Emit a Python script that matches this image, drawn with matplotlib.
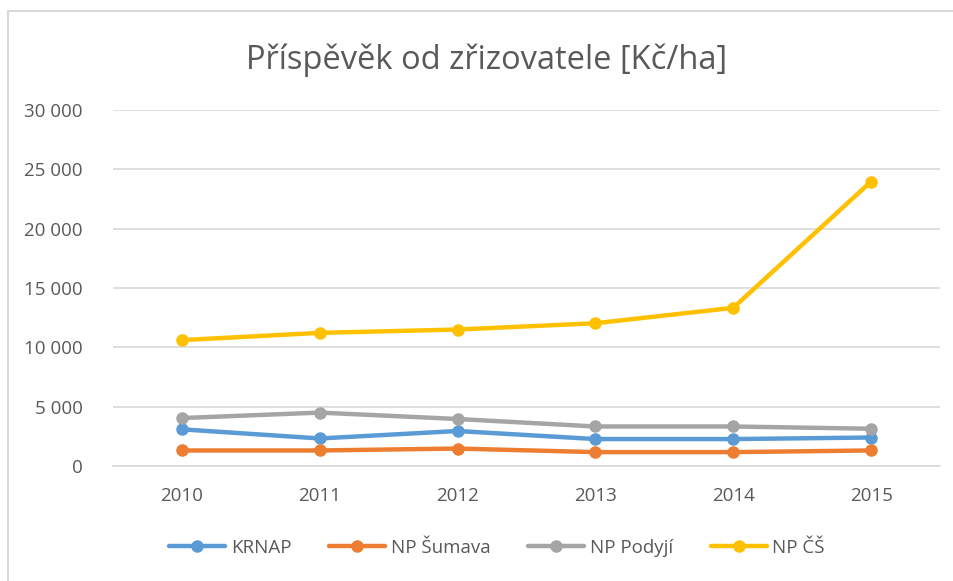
import matplotlib
matplotlib.use("Agg")
import matplotlib.pyplot as plt
from matplotlib.patches import Rectangle
from matplotlib.ticker import FuncFormatter

years = ["2010", "2011", "2012", "2013", "2014", "2015"]
krnap = [3090, 2320, 2950, 2270, 2270, 2400]
sumava = [1310, 1310, 1470, 1170, 1170, 1310]
podyji = [4040, 4500, 3960, 3330, 3330, 3140]
npcs = [10610, 11220, 11500, 12030, 13330, 23970]
series_names = ["KRNAP", "NP Šumava", "NP Podyjí", "NP ČŠ"]
colors = ["#5B9BD5", "#ED7D31", "#A5A5A5", "#FFC000"]
title = "Příspěvěk od zřizovatele [Kč/ha]"

plt.rcParams['font.family'] = ['Open Sans', 'DejaVu Sans']

W, H = 954, 581
fig = plt.figure(figsize=(W / 100, H / 100), dpi=100)

# chart border
fig.patches.append(Rectangle((8 / W, -0.05), 1.1, 1 - 11 / H + 0.05,
                             transform=fig.transFigure, fill=False,
                             edgecolor="#D9D9D9", linewidth=1.5))

left, right, top, bottom = 113, 940, 110, 466
ax = fig.add_axes([left / W, 1 - bottom / H, (right - left) / W, (bottom - top) / H])

x = list(range(len(years)))
for vals, name, c in zip([krnap, sumava, podyji, npcs], series_names, colors):
    ax.plot(x, vals, color=c, linewidth=3.2, marker="o", markersize=8,
            label=name, solid_capstyle="round", zorder=3)

ax.set_xlim(-0.5, len(years) - 0.5)
ax.set_ylim(0, 30000)
ax.set_yticks(range(0, 30001, 5000))
ax.yaxis.set_major_formatter(FuncFormatter(lambda v, p: f"{int(v):,}".replace(",", " ")))
ax.set_xticks(x)
ax.set_xticklabels(years)
ax.grid(axis="y", color="#D9D9D9", linewidth=1.2, zorder=0)
for s in ["top", "right", "left"]:
    ax.spines[s].set_visible(False)
ax.spines["bottom"].set_color("#D9D9D9")
ax.spines["bottom"].set_linewidth(1.2)
ax.tick_params(axis="both", length=0, colors="#595959", labelsize=13.5)
ax.tick_params(axis="y", pad=22)
ax.tick_params(axis="x", pad=15)

fig.text(487 / W, 1 - 60 / H, title, ha="center", va="center",
         fontsize=23.5, color="#595959")

leg = fig.legend(loc="center", bbox_to_anchor=(497 / W, 1 - 548 / H), ncol=4,
                 frameon=False, fontsize=13.5, handlelength=3, columnspacing=2.0,
                 handletextpad=0.3)
for t in leg.get_texts():
    t.set_color("#595959")

fig.savefig("out.png", dpi=100, facecolor="white")
